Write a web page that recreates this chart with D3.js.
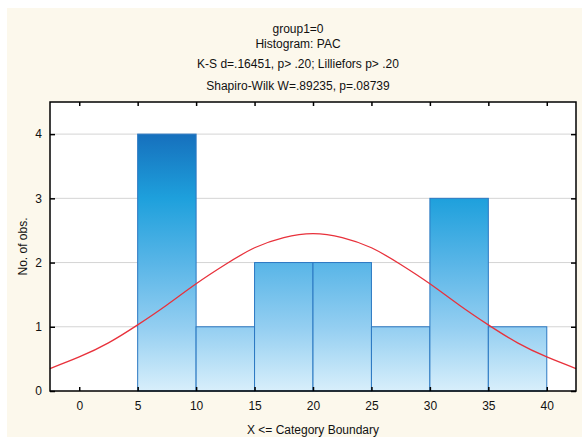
<!DOCTYPE html>
<html>
<head>
<meta charset="utf-8">
<script src="https://cdn.jsdelivr.net/npm/d3@7"></script>
<style>
  body { margin: 0; background: #fff; }
  text { fill: #111; }
</style>
</head>
<body>
<div id="chart"></div>
<script>
// Histogram bins (lower, upper boundary) and counts
const binStart = [5, 10, 15, 20, 25, 30, 35];
const binEnd = [10, 15, 20, 25, 30, 35, 40];
const counts = [4, 1, 2, 2, 1, 3, 1];

// Expected normal curve
const curveX = [-2.5, 0, 2.5, 5, 7.5, 10, 12.5, 15, 17.5, 20, 22.5, 25, 27.5, 30, 32.5, 35, 37.5, 40, 42.5];
const curveY = [0.35, 0.53, 0.75, 1.03, 1.34, 1.67, 1.97, 2.23, 2.39, 2.45, 2.39, 2.23, 1.97, 1.67, 1.34, 1.03, 0.75, 0.53, 0.35];

const xTicks = [0, 5, 10, 15, 20, 25, 30, 35, 40];
const yTicks = [0, 1, 2, 3, 4];

const titleLines = [
  "group1=0",
  "Histogram: PAC",
  "K-S d=.16451, p> .20; Lilliefors p> .20",
  "Shapiro-Wilk W=.89235, p=.08739"
];

const width = 582;
const height = 437;
const margin = { top: 102, right: 6, bottom: 46, left: 50 };
const innerWidth = width - margin.left - margin.right;
const innerHeight = height - margin.top - margin.bottom;
const font = "Liberation Sans, Arial, sans-serif";

const svg = d3.select("#chart")
  .append("svg")
  .attr("width", width)
  .attr("height", height)
  .attr("font-family", font)
  .attr("font-size", 12);

// cream panel
svg.append("rect")
  .attr("x", 7).attr("y", 8)
  .attr("width", width - 7).attr("height", height - 8)
  .attr("fill", "#fcf8ec");

// title
svg.append("g")
  .selectAll("text")
  .data(titleLines)
  .enter()
  .append("text")
  .attr("x", 298)
  .attr("y", (d, i) => [33, 48, 68, 90][i])
  .attr("text-anchor", "middle")
  .text(d => d);

const chart = svg.append("g")
  .attr("transform", `translate(${margin.left}, ${margin.top})`);

const xScale = d3.scaleLinear().domain([-2.5, 42.5]).range([0, innerWidth]);
const yScale = d3.scaleLinear().domain([0, 4.5]).range([innerHeight, 0]);

chart.append("rect")
  .attr("width", innerWidth)
  .attr("height", innerHeight)
  .attr("fill", "#fff");

// gradient for the bars
const grad = svg.append("defs").append("linearGradient")
  .attr("id", "barGrad")
  .attr("gradientUnits", "userSpaceOnUse")
  .attr("x1", 0).attr("x2", 0)
  .attr("y1", yScale(4)).attr("y2", yScale(0));
[[0, "#1670bd"], [0.25, "#1ea0dc"], [0.5, "#58b5e7"], [0.75, "#93cef1"], [1, "#d8effb"]]
  .forEach(s => grad.append("stop").attr("offset", s[0]).attr("stop-color", s[1]));

// grid lines
chart.append("g")
  .selectAll("line")
  .data(yTicks.filter(d => d > 0))
  .enter()
  .append("line")
  .attr("x1", 0).attr("x2", innerWidth)
  .attr("y1", d => yScale(d)).attr("y2", d => yScale(d))
  .attr("stroke", "#d4d4d4")
  .attr("stroke-width", 1);

// bars
chart.append("g")
  .selectAll("rect")
  .data(counts)
  .enter()
  .append("rect")
  .attr("x", (d, i) => xScale(binStart[i]))
  .attr("y", d => yScale(d))
  .attr("width", (d, i) => xScale(binEnd[i]) - xScale(binStart[i]))
  .attr("height", d => innerHeight - yScale(d))
  .attr("fill", "url(#barGrad)")
  .attr("stroke", "#2b78c2")
  .attr("stroke-width", 1);

// normal curve
const line = d3.line()
  .x((d, i) => xScale(curveX[i]))
  .y(d => yScale(d))
  .curve(d3.curveNatural);

chart.append("path")
  .datum(curveY)
  .attr("d", line)
  .attr("fill", "none")
  .attr("stroke", "#e8313b")
  .attr("stroke-width", 1.3);

// axes with inward ticks
chart.append("g")
  .attr("transform", `translate(0, ${innerHeight})`)
  .call(d3.axisBottom(xScale).tickValues(xTicks).tickSize(-4).tickPadding(10))
  .attr("font-family", font)
  .attr("font-size", 12)
  .call(g => g.select(".domain").remove());

chart.append("g")
  .call(d3.axisTop(xScale).tickValues(xTicks).tickSize(-4))
  .call(g => g.select(".domain").remove())
  .call(g => g.selectAll("text").remove());

chart.append("g")
  .call(d3.axisLeft(yScale).tickValues(yTicks).tickFormat(d3.format("d")).tickSize(-5).tickPadding(8))
  .attr("font-family", font)
  .attr("font-size", 12)
  .call(g => g.select(".domain").remove());

chart.append("g")
  .attr("transform", `translate(${innerWidth}, 0)`)
  .call(d3.axisRight(yScale).tickValues(yTicks).tickSize(-5))
  .call(g => g.select(".domain").remove())
  .call(g => g.selectAll("text").remove());

chart.selectAll(".tick line").attr("stroke", "#000").attr("stroke-width", 1.5);

// plot frame
chart.append("rect")
  .attr("width", innerWidth)
  .attr("height", innerHeight)
  .attr("fill", "none")
  .attr("stroke", "#000")
  .attr("stroke-width", 1.5);

// axis titles
svg.append("text")
  .attr("x", margin.left + innerWidth / 2)
  .attr("y", 434)
  .attr("text-anchor", "middle")
  .text("X <= Category Boundary");

svg.append("text")
  .attr("transform", `translate(27, ${margin.top + innerHeight / 2}) rotate(-90)`)
  .attr("text-anchor", "middle")
  .text("No. of obs.");
</script>
</body>
</html>
